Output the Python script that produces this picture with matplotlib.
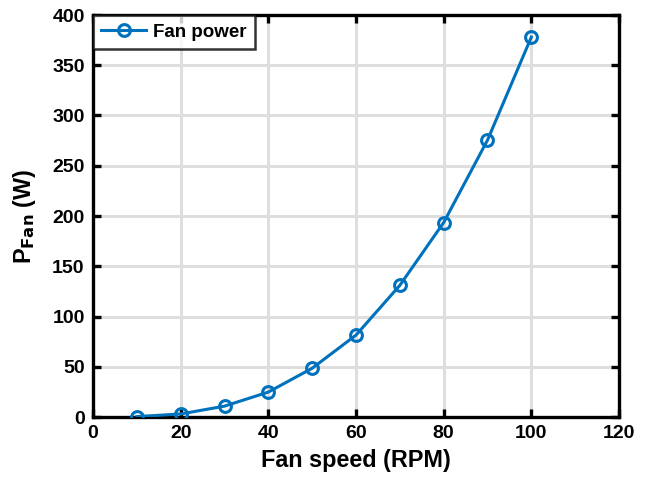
import numpy as np
import matplotlib.pyplot as plt

plt.rcParams['font.family'] = ['Liberation Sans', 'DejaVu Sans']
plt.rcParams['font.weight'] = 'bold'

# fan speed (RPM) vs fan power (W)
speed = [10, 20, 30, 40, 50, 60, 70, 80, 90, 100]
power = [0.4, 3, 10.8, 24.8, 48.5, 81.5, 131, 193.5, 275.5, 378]

fig = plt.figure(figsize=(6.48, 4.86), dpi=100)
ax = fig.add_axes([93/648, 1 - 417/486, (619-93)/648, (417-15)/486])

ax.plot(speed, power, color='#0072BD', lw=2.2, marker='o', ms=8.5,
        mfc='none', mew=2.2, label='Fan power', zorder=3)

ax.set_xlim(0, 120)
ax.set_ylim(0, 400)
ax.set_xticks(np.arange(0, 121, 20))
ax.set_yticks(np.arange(0, 401, 50))
ax.grid(True, color='#dedede', lw=2.2)
ax.set_axisbelow(True)

for s in ax.spines.values():
    s.set_linewidth(2.4)
ax.tick_params(direction='in', length=6, width=2.4, top=True, right=True,
               labelsize=14, pad=6)
for lab in ax.get_xticklabels() + ax.get_yticklabels():
    lab.set_fontweight('bold')

ax.set_xlabel('Fan speed (RPM)', fontsize=16.8, fontweight='bold', labelpad=5)
ax.set_ylabel(r'P$_{\mathbf{Fan}}$ (W)', fontsize=16.8, fontweight='bold', labelpad=10)

leg = ax.legend(loc='upper left', fontsize=13.5, frameon=True, fancybox=False,
                borderaxespad=0, handlelength=2.4, borderpad=0.45,
                handletextpad=0.35)
leg.get_frame().set_edgecolor('black')
leg.get_frame().set_linewidth(1.8)

fig.savefig('out.png', dpi=100)
